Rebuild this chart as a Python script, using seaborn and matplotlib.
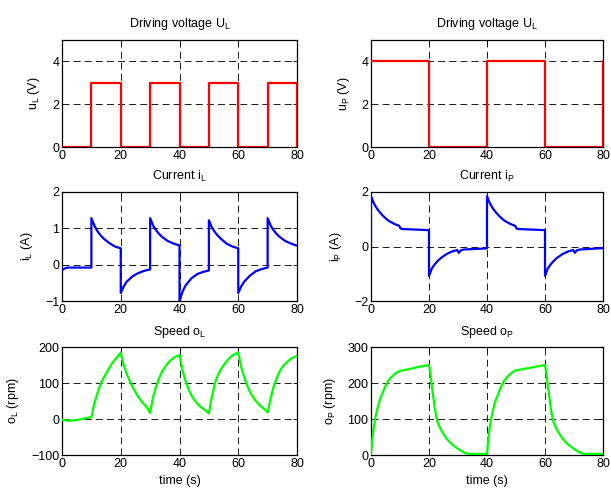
import matplotlib
matplotlib.use("Agg")
import matplotlib.pyplot as plt
import seaborn as sns

# ---------------- data ----------------
# Driving voltage u_L
uL_t = [0, 10, 10, 20, 20, 30, 30, 40, 40, 50, 50, 60, 60, 70, 70, 80, 80]
uL_v = [0, 0, 3, 3, 0, 0, 3, 3, 0, 0, 3, 3, 0, 0, 3, 3, 0]

# Driving voltage u_P
uP_t = [0, 20, 20, 40, 40, 60, 60, 80, 80]
uP_v = [4, 4, 0, 0, 4, 4, 0, 0, 4]

# Current i_L
iL_t = [0, 1, 2, 10, 10, 11, 12, 13, 14, 16, 18, 20,
        20, 21, 22, 24, 26, 28, 30,
        30, 31, 32, 33, 34, 36, 38, 40,
        40, 41, 42, 44, 46, 48, 50,
        50, 51, 52, 53, 54, 56, 58, 60,
        60, 61, 62, 64, 66, 68, 70,
        70, 71, 72, 73, 74, 76, 78, 80]
iL_v = [-0.15, -0.10, -0.08, -0.08, 1.28, 1.08, 0.93, 0.82, 0.73, 0.60, 0.50, 0.45,
        -0.78, -0.60, -0.47, -0.32, -0.23, -0.17, -0.13,
        1.28, 1.08, 0.95, 0.85, 0.77, 0.65, 0.58, 0.53,
        -1.00, -0.75, -0.58, -0.38, -0.26, -0.20, -0.16,
        1.22, 1.03, 0.90, 0.80, 0.72, 0.58, 0.50, 0.45,
        -0.78, -0.60, -0.47, -0.30, -0.18, -0.12, -0.08,
        1.28, 1.08, 0.95, 0.85, 0.77, 0.65, 0.58, 0.52]

# Current i_P
iP_t = [0, 0, 1, 2, 3, 4, 5, 6, 8, 9.7, 10.2, 11, 20,
        20, 21, 22, 23, 24, 26, 28, 29.7, 30.3, 31, 32, 40,
        40, 41, 42, 43, 44, 45, 46, 48, 49.7, 50.2, 51, 60,
        60, 61, 62, 63, 64, 66, 68, 69.7, 70.3, 71, 72, 80]
iP_v = [0.0, 1.85, 1.58, 1.40, 1.26, 1.14, 1.04, 0.95, 0.83, 0.76, 0.66, 0.64, 0.60,
        -1.08, -0.80, -0.65, -0.53, -0.43, -0.28, -0.18, -0.13, -0.23, -0.14, -0.11, -0.07,
        1.85, 1.58, 1.40, 1.26, 1.14, 1.04, 0.95, 0.83, 0.76, 0.66, 0.64, 0.60,
        -1.08, -0.80, -0.65, -0.53, -0.43, -0.28, -0.18, -0.13, -0.23, -0.14, -0.11, -0.06]

# Speed o_L
oL_t = [0, 2, 5, 8, 10, 11, 12, 13, 14, 15, 16, 17, 18, 19, 20,
        21, 22, 23, 24, 25, 26, 27, 28, 29, 30,
        31, 32, 33, 34, 35, 36, 37, 38, 39, 40,
        41, 42, 43, 44, 45, 46, 47, 48, 49, 50,
        51, 52, 53, 54, 55, 56, 57, 58, 59, 60,
        61, 62, 63, 64, 65, 66, 67, 68, 69, 70,
        71, 72, 73, 74, 75, 76, 77, 78, 79, 80]
oL_v = [-2, -5, -3, 2, 5, 43, 70, 94, 112, 126, 140, 154, 165, 174, 185,
        149, 126, 107, 89, 75, 61, 50, 40, 31, 17,
        61, 89, 112, 131, 144, 155, 163, 170, 174, 177,
        135, 107, 84, 66, 54, 43, 35, 29, 23, 15,
        61, 98, 121, 137, 149, 160, 169, 177, 181, 185,
        144, 117, 94, 75, 61, 50, 41, 33, 27, 18,
        56, 89, 112, 131, 144, 154, 161, 168, 172, 175]

# Speed o_P
oP_t = [0, 0.4, 0.8, 1.4, 2, 2.5, 3, 3.7, 4.8, 5.9, 7, 8, 9, 10, 12, 14, 16, 18, 20,
        20.5, 21, 21.5, 22, 22.5, 23, 24, 25, 26, 27, 28, 29, 30, 31, 32, 33, 34, 40,
        40.4, 40.8, 41.4, 42, 42.5, 43, 43.7, 44.8, 45.9, 47, 48, 49, 50, 52, 54, 56, 58, 60,
        60.5, 61, 61.5, 62, 62.5, 63, 64, 65, 66, 67, 68, 69, 70, 71, 72, 73, 74, 80]
oP_v = [0, 40, 68, 100, 122, 138, 152, 166, 189, 206, 216, 224, 230, 233, 237, 240, 244, 247, 250,
        225, 190, 160, 130, 106, 90, 72, 58, 46, 37, 29, 23, 17, 12, 7, 4, 3, 3,
        40, 68, 100, 122, 138, 152, 166, 189, 206, 217, 225, 231, 235, 238, 241, 244, 247, 250,
        225, 190, 160, 130, 106, 90, 72, 58, 46, 37, 29, 23, 17, 12, 7, 4, 3, 3]

x_ticks = [0, 20, 40, 60, 80]

# ---------------- style ----------------
sns.set_style("white")
FS = 9
plt.rcParams.update({
    "font.family": ["Liberation Sans", "DejaVu Sans"],
    "font.size": FS,
    "mathtext.fontset": "custom",
    "mathtext.rm": "Liberation Sans",
    "mathtext.it": "Liberation Sans:italic",
    "mathtext.default": "regular",
    "axes.edgecolor": "black",
    "axes.linewidth": 0.9,
    "axes.labelcolor": "black",
    "text.color": "black",
    "xtick.color": "black",
    "ytick.color": "black",
    "xtick.direction": "in",
    "ytick.direction": "in",
    "lines.scale_dashes": False,
})

fig = plt.figure(figsize=(6.11, 4.91), dpi=100)

W = 611.0
H = 491.0
col_x = [62 / W, 371 / W]
col_w = [235 / W, 232 / W]
rows = [(147, 107), (301, 109), (455, 108)]  # (bottom pixel, height pixel)

panels = [
    # row, col, t, v, color, ylim, yticks, ylabel, title
    (0, 0, uL_t, uL_v, "#ff0000", (0, 5), [0, 2, 4], "u$_{L}$ (V)", "Driving voltage U$_{L}$"),
    (0, 1, uP_t, uP_v, "#ff0000", (0, 5), [0, 2, 4], "u$_{P}$ (V)", "Driving voltage U$_{L}$"),
    (1, 0, iL_t, iL_v, "#0000ff", (-1, 2), [-1, 0, 1, 2], "i$_{L}$ (A)", "Current i$_{L}$"),
    (1, 1, iP_t, iP_v, "#0000ff", (-2, 2), [-2, 0, 2], "i$_{P}$ (A)", "Current i$_{P}$"),
    (2, 0, oL_t, oL_v, "#00ff00", (-100, 200), [-100, 0, 100, 200], "o$_{L}$ (rpm)", "Speed o$_{L}$"),
    (2, 1, oP_t, oP_v, "#00ff00", (0, 300), [0, 100, 200, 300], "o$_{P}$ (rpm)", "Speed o$_{P}$"),
]

for r, c, t, v, color, ylim, yticks, ylabel, title in panels:
    bottom_px, h_px = rows[r]
    ax = fig.add_axes([col_x[c], (H - bottom_px) / H, col_w[c], h_px / H])
    sns.lineplot(x=t, y=v, ax=ax, color=color, linewidth=1.6,
                 estimator=None, sort=False, zorder=3)
    ax.set_xlim(0, 80)
    ax.set_ylim(*ylim)
    ax.set_xticks(x_ticks)
    ax.set_yticks(yticks)
    ax.grid(True, color="#1a1a1a", linestyle=(0, (5, 3)), linewidth=0.7)
    ax.set_axisbelow(True)
    ax.tick_params(length=3, width=0.6, top=True, right=True, labelsize=FS, pad=2)
    ax.set_ylabel(ylabel, fontsize=FS, labelpad=7)
    ax.set_title(title, fontsize=FS, pad=9)
    if r == 2:
        ax.set_xlabel("time (s)", fontsize=FS, labelpad=4)
    else:
        ax.set_xlabel("")
    for s in ax.spines.values():
        s.set_visible(True)
        s.set_color("black")
        s.set_linewidth(0.9)

fig.savefig("out.png", dpi=100)
